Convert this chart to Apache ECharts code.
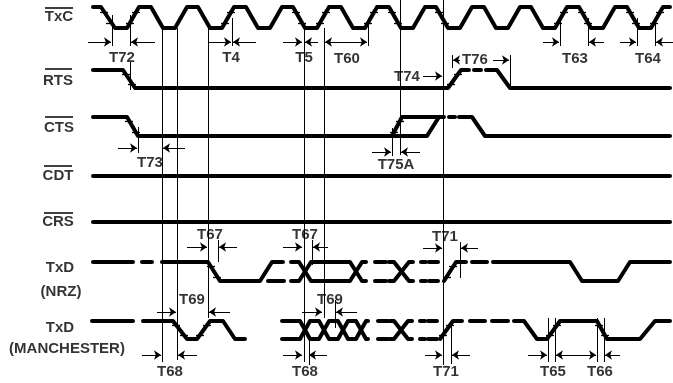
<!DOCTYPE html>
<html>
<head>
<meta charset="utf-8">
<script src="https://cdn.jsdelivr.net/npm/echarts@6/dist/echarts.min.js"></script>
<style>
  html, body { margin: 0; padding: 0; background: #fff; }
  #chart { width: 673px; height: 383px; }
</style>
</head>
<body>
<div id="chart"></div>
<script>
// waveforms: list of polylines, points are [time, level] in drawing units
const txc = [[[93, 7], [101, 7], [115, 28], [127, 28], [139, 7], [151, 7], [163, 28], [175, 28], [187, 7], [198, 7],
  [210, 28], [222, 28], [234, 7], [246, 7], [258, 28], [270, 28], [282, 7], [293, 7], [305, 28], [317, 28],
  [329, 7], [341, 7], [353, 28], [365, 28], [377, 7], [389, 7], [401, 28], [413, 28], [425, 7], [436, 7],
  [448, 28], [460, 28], [472, 7], [484, 7], [496, 28], [508, 28], [520, 7], [531, 7], [543, 28], [555, 28],
  [567, 7], [579, 7], [591, 28], [603, 28], [615, 7], [627, 7], [639, 28], [651, 28], [663, 7], [670, 7]]]
const rts = [
  [[93, 70], [123, 70], [135, 88], [448, 88], [461, 70], [469, 70]],
  [[474, 70], [481, 70]],
  [[486, 70], [497, 70], [510, 88], [670, 88]]
]
const cts = [
  [[93, 117], [127, 117], [138, 136], [427, 136], [439, 117], [444, 117]],
  [[392, 136], [402, 117], [439, 117]],
  [[449, 117], [455, 117]],
  [[459, 117], [472, 117], [485, 136], [670, 136]]
]
const cdt = [[[93, 176], [670, 176]]]
const crs = [[[93, 222], [670, 222]]]
const nrz = [
  [[93, 262], [133, 262]],
  [[142, 262], [152, 262]],
  [[162, 262], [208, 262], [220, 281], [260, 281], [272, 262], [283, 262]],
  [[268, 281], [284, 281]],
  [[291, 262], [299, 262], [311, 281], [350, 281], [362, 262], [366, 262]],
  [[291, 281], [299, 281], [311, 262], [350, 262], [362, 281], [366, 281]],
  [[375, 262], [386, 262]], [[375, 281], [386, 281]],
  [[389, 262], [394, 262], [409, 281], [413, 281]],
  [[389, 281], [394, 281], [409, 262], [413, 262]],
  [[421, 262], [426, 262]], [[421, 281], [426, 281]],
  [[429, 262], [438, 262]], [[429, 281], [438, 281]],
  [[444, 281], [456, 262], [466, 262]],
  [[472, 262], [487, 262]],
  [[493, 262], [570, 262], [582, 281], [618, 281], [630, 262], [670, 262]]
]
const man = [
  [[92, 321], [133, 321]],
  [[143, 321], [173, 321], [187, 339], [197, 339], [210, 321], [223, 321], [235, 339], [245, 339]],
  [[282, 321], [300, 321], [310, 339], [319, 339], [329, 321], [338, 321], [348, 339], [356, 339], [366, 321], [368, 321]],
  [[282, 339], [300, 339], [310, 321], [319, 321], [329, 339], [338, 339], [348, 321], [356, 321], [366, 339], [368, 339]],
  [[378, 321], [388, 321]], [[378, 339], [388, 339]],
  [[390, 321], [394, 321], [408, 339], [412, 339]],
  [[390, 339], [394, 339], [408, 321], [412, 321]],
  [[420, 321], [425, 321]], [[420, 339], [425, 339]],
  [[428, 321], [437, 321]], [[428, 339], [437, 339]],
  [[440, 339], [453, 321], [462, 321]],
  [[470, 321], [485, 321]],
  [[492, 321], [508, 321]],
  [[514, 321], [524, 321], [537, 339], [547, 339], [560, 321], [597, 321], [607, 339], [640, 339], [655, 321], [670, 321]]
]

// threshold ticks on edges (centre points)
const ticks = [[104, 12], [110, 23], [130, 23], [136, 12], [225, 23], [231, 12], [296, 12], [302, 23],
  [320, 23], [326, 12], [368, 23], [374, 12], [392, 12], [398, 23], [439, 12], [445, 23],
  [558, 23], [564, 12], [582, 12], [588, 23], [630, 12], [636, 23], [654, 23], [660, 12],
  [126, 74], [132, 84], [451, 84], [458, 74], [129, 121], [136, 132], [394, 132], [400, 121],
  [211, 266], [217, 277], [447, 277], [453, 266], [176, 325], [184, 335], [200, 335], [207, 325],
  [443, 335], [450, 325], [550, 335], [557, 325], [599, 325], [605, 335]]

// thin guide lines [x, yTop, yBottom]
const guides = [[162, 28, 362], [177, 28, 360], [208, 28, 318], [304, 28, 362], [324, 28, 318],
  [400, 0, 155], [443, 0, 365], [112, 15, 46], [130, 15, 46], [130, 62, 90], [138, 127, 153],
  [232, 18, 46], [368, 18, 46], [452, 55, 68], [510, 55, 90], [560, 18, 46], [588, 18, 46],
  [637, 18, 46], [655, 18, 46], [392, 128, 156], [218, 240, 262], [312, 240, 265], [460, 242, 278],
  [335, 300, 328], [451, 322, 364], [309, 340, 365], [548, 318, 362], [555, 318, 362],
  [597, 318, 362], [604, 318, 362]]

// dimension arrows [fromX, toX, y] (head at toX)
const arrows = [[88, 111, 42], [155, 131, 42], [208, 231, 42], [256, 233, 42], [283, 302, 42], [318, 305, 42],
  [345, 325, 42], [345, 367, 42], [543, 559, 42], [604, 589, 42], [620, 636, 42], [673, 656, 42],
  [423, 442, 76], [460, 453, 60], [493, 509, 60], [118, 137, 148], [185, 163, 148],
  [372, 391, 152], [420, 401, 152], [187, 207, 247], [237, 219, 247], [283, 302, 247], [328, 313, 247],
  [423, 442, 248], [478, 461, 248], [157, 176, 312], [230, 209, 312], [302, 322, 312], [357, 336, 312],
  [142, 161, 355], [197, 178, 355], [283, 302, 355], [327, 309, 355], [425, 442, 355], [470, 452, 355],
  [528, 547, 355], [576, 556, 355], [576, 596, 355], [620, 605, 355]]

const sigNames = ['TxC', 'RTS', 'CTS', 'CDT', 'CRS', 'TxD', '(NRZ)', 'TxD', '(MANCHESTER)']
const sigPos = [[59, 17], [58, 81], [59, 128], [58, 176], [58, 222], [60, 268], [61, 292], [60, 328], [67, 349]]
const overlines = [[45, 73, 8], [45, 72, 69], [45, 73, 117], [44, 72, 166], [44, 73, 213]]

const timeNames = ['T72', 'T4', 'T5', 'T60', 'T74', 'T76', 'T63', 'T64', 'T73', 'T75A', 'T67', 'T67', 'T71',
  'T69', 'T69', 'T68', 'T68', 'T71', 'T65', 'T66']
const timePos = [[122, 58], [231, 58], [304, 58], [347, 59], [407, 77], [475, 60], [575, 59], [648, 59],
  [150, 163], [396, 165], [210, 235], [305, 235], [445, 237], [192, 300], [330, 300], [170, 372],
  [305, 372], [446, 372], [553, 372], [600, 372]]

const waves = [txc, rts, cts, cdt, crs, nrz, man]

const font = 'Liberation Sans'
const series = []
waves.forEach(w => {
  series.push({
    type: 'lines',
    coordinateSystem: 'cartesian2d',
    polyline: true,
    silent: true,
    lineStyle: { color: '#000', width: 4, cap: 'round', join: 'round', opacity: 1 },
    data: w.map(seg => ({ coords: seg }))
  })
})
series.push({
  type: 'lines',
  coordinateSystem: 'cartesian2d',
  silent: true,
  lineStyle: { color: '#000', width: 1.3, opacity: 1 },
  data: ticks.map(t => ({ coords: [[t[0] - 4, t[1]], [t[0] + 4, t[1]]] }))
})
series.push({
  type: 'lines',
  coordinateSystem: 'cartesian2d',
  silent: true,
  lineStyle: { color: '#000', width: 1, opacity: 1 },
  data: guides.map(g => ({ coords: [[g[0], g[1]], [g[0], g[2]]] }))
})
series.push({
  type: 'lines',
  coordinateSystem: 'cartesian2d',
  silent: true,
  symbol: ['none', 'arrow'],
  symbolSize: [0, 7],
  lineStyle: { color: '#000', width: 1, opacity: 1 },
  data: arrows.map(a => ({ coords: [[a[0], a[2]], [a[1], a[2]]] }))
})
series.push({
  type: 'lines',
  coordinateSystem: 'cartesian2d',
  silent: true,
  lineStyle: { color: '#000', width: 1.5, opacity: 1 },
  data: overlines.map(o => ({ coords: [[o[0], o[2]], [o[1], o[2]]] }))
})
series.push({
  type: 'scatter',
  silent: true,
  symbolSize: 0,
  label: {
    show: true, position: 'inside', formatter: p => p.name,
    color: '#000', fontFamily: font, fontWeight: 'bold', fontSize: 15
  },
  data: sigNames.map((n, i) => ({ name: n, value: sigPos[i] }))
})
series.push({
  type: 'scatter',
  silent: true,
  symbolSize: 0,
  label: {
    show: true, position: 'inside', formatter: p => p.name,
    color: '#000', fontFamily: font, fontWeight: 'bold', fontSize: 15
  },
  data: timeNames.map((n, i) => ({ name: n, value: timePos[i] }))
})

const option = {
  animation: false,
  backgroundColor: '#fff',
  grid: { left: 0, right: 0, top: 0, bottom: 0 },
  xAxis: { type: 'value', min: 0, max: 673, show: false },
  yAxis: { type: 'value', min: 0, max: 383, inverse: true, show: false },
  series: series
}
const myChart = echarts.init(document.getElementById('chart'))
myChart.setOption(option)
</script>
</body>
</html>
